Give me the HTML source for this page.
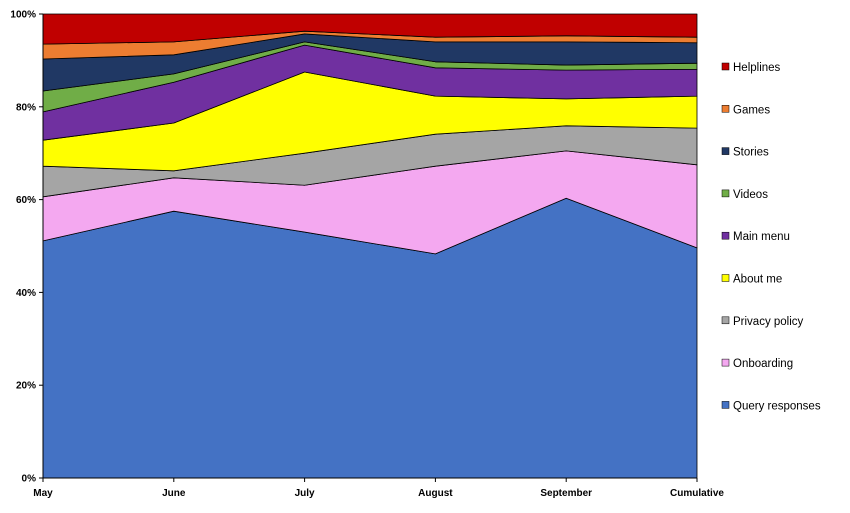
<!DOCTYPE html>
<html><head><meta charset="utf-8"><style>
body{margin:0;background:#fff;font-family:"Liberation Sans",sans-serif}
svg text{font-family:"Liberation Sans",sans-serif}
</style></head><body>
<svg id="chart" width="850" height="508" xmlns="http://www.w3.org/2000/svg">
<g id="areas"></g>
<g id="axes"></g>
<g id="legend"></g>
</svg>
<script>
const categories=["May","June","July","August","September","Cumulative"];
const seriesNames=["Query responses","Onboarding","Privacy policy","About me","Main menu","Videos","Stories","Games","Helplines"];
const queryResponses=[51.1,57.5,53.0,48.3,60.3,49.6];
const onboarding=[9.5,7.2,10.1,18.9,10.2,17.9];
const privacyPolicy=[6.6,1.5,6.9,6.9,5.4,7.9];
const aboutMe=[5.6,10.3,17.5,8.2,5.8,6.9];
const mainMenu=[6.1,8.8,5.8,6.1,6.2,5.8];
const videos=[4.5,1.8,0.7,1.3,1.1,1.3];
const stories=[6.9,4.1,1.7,4.3,5.0,4.4];
const games=[3.2,2.8,0.6,1.0,1.3,1.2];
const helplines=[6.5,6.0,3.7,5.0,4.7,5.0];
const yTicks=["0%","20%","40%","60%","80%","100%"];
const colors=["#4472c4","#f4a8f0","#a5a5a5","#ffff00","#7030a0","#70ad47","#203864","#ed7d31","#c00000"];
const series=[queryResponses,onboarding,privacyPolicy,aboutMe,mainMenu,videos,stories,games,helplines];
const NS="http://www.w3.org/2000/svg";
const X0=43,X1=697,Y0=478,Y1=14;
const xPos=i=>X0+(X1-X0)*i/(categories.length-1);
const yPos=v=>Y0-(Y0-Y1)*v/100;
function mk(tag,attrs,parent){const e=document.createElementNS(NS,tag);for(const k in attrs)e.setAttribute(k,attrs[k]);parent.appendChild(e);return e;}
const areas=document.getElementById('areas'),axes=document.getElementById('axes'),legend=document.getElementById('legend');
const totals=categories.map((c,i)=>series.reduce((s,a)=>s+a[i],0));
let base=categories.map(()=>0);
series.forEach((arr,k)=>{
  const top=base.map((b,i)=>b+arr[i]/totals[i]*100);
  let d="";
  top.forEach((v,i)=>{d+=(i?"L":"M")+xPos(i)+","+yPos(v)});
  for(let i=base.length-1;i>=0;i--)d+="L"+xPos(i)+","+yPos(base[i]);
  d+="Z";
  const p=mk('path',{d:d,fill:colors[k],stroke:"#000","stroke-width":0.8,"stroke-linejoin":"round"},areas);
  
  
  base=top;
});
const ax=mk('line',{x1:X0,y1:Y1,x2:X0,y2:Y0,stroke:"#000","stroke-width":1},axes);


const bx=mk('line',{x1:X0,y1:Y0,x2:X1,y2:Y0,stroke:"#000","stroke-width":1},axes);


yTicks.forEach((t,i)=>{
  const v=i*20;
  mk('line',{x1:X0-4,y1:yPos(v),x2:X0,y2:yPos(v),stroke:"#000"},axes);
  const tx=mk('text',{x:X0-7,y:yPos(v)+3.5,"text-anchor":"end","font-size":10,"font-weight":"bold"},axes);
  tx.textContent=t;
  
  
});
categories.forEach((c,i)=>{
  mk('line',{x1:xPos(i),y1:Y0,x2:xPos(i),y2:Y0+4,stroke:"#000"},axes);
  const tx=mk('text',{x:xPos(i),y:Y0+18,"text-anchor":"middle","font-size":10,"font-weight":"bold"},axes);
  tx.textContent=c;
  
  
});
for(let k=series.length-1;k>=0;k--){
  const j=series.length-1-k;
  const y=67+j*42.3;
  const g=mk('g',{},legend);
  
  
  mk('rect',{x:722,y:y-4,width:7,height:7,fill:colors[k],stroke:"#000","stroke-width":0.5},g);
  const tx=mk('text',{x:733,y:y+4,"font-size":11.5},g);
  tx.textContent=seriesNames[k];
}
</script>
</body></html>
